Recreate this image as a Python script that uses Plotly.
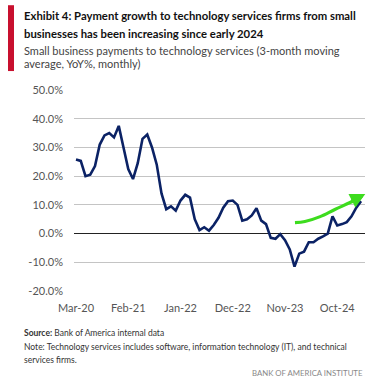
import plotly.graph_objects as go
import pandas as pd

# ---- data ----
months = pd.date_range("2020-03-01", periods=61, freq="MS").strftime("%b-%y").tolist()
values = [25.8, 25.3, 20.0, 20.5, 23.5, 31.0, 34.2, 35.0, 33.5, 37.5,
          30.0, 22.5, 19.0, 24.5, 33.0, 34.5, 30.0, 24.0, 14.0, 8.5,
          9.5, 8.0, 11.5, 13.5, 12.5, 5.0, 1.2, 2.2, 1.0, 3.0,
          5.5, 9.0, 11.3, 11.5, 10.0, 4.5, 5.0, 6.3, 8.8, 4.5,
          3.3, -1.5, -1.8, -0.2, -2.3, -5.5, -11.5, -7.0, -6.3, -3.0,
          -3.0, -1.8, -1.0, 0.0, 6.0, 2.8, 3.3, 4.0, 6.0, 9.0, 11.3]
tick_idx = [0, 11, 22, 33, 44, 55]
tick_labels = [months[i] for i in tick_idx]
y_ticks = [-20, -10, 0, 10, 20, 30, 40, 50]
y_labels = [f"{v:.1f}%" for v in y_ticks]
# hand-drawn green trend arrow (in data coords)
arrow_x = [46.1, 48.2, 51.4, 54.5, 57.7, 60.2]
arrow_y = [3.8, 4.2, 5.9, 8.4, 10.8, 13.0]

W, H = 389, 386
L, R, T, B = 74, 365, 90, 291.5

def px(x):
    return (x - L) / (R - L)

def py(y):
    return (B - y) / (B - T)

NAVY = "#0b2265"
FONT = "Lato"

fig = go.Figure()
fig.add_trace(go.Scatter(x=list(range(len(values))), y=values, mode="lines",
                         line=dict(color=NAVY, width=2.6), hoverinfo="skip"))
fig.add_trace(go.Scatter(x=arrow_x, y=arrow_y, mode="lines",
                         line=dict(color="#3ddc1e", width=3.2, shape="spline"), hoverinfo="skip"))

fig.add_annotation(x=60.9, y=13.8, ax=arrow_x[-2], ay=arrow_y[-2] + 0.3,
                   xref="x", yref="y", axref="x", ayref="y", text="",
                   showarrow=True, arrowhead=2, arrowsize=1.0, arrowwidth=3,
                   arrowcolor="#3ddc1e")

fig.update_layout(
    width=W, height=H,
    margin=dict(l=L, r=W - R, t=T, b=H - B, pad=0),
    paper_bgcolor="white", plot_bgcolor="white",
    showlegend=False,
    font=dict(family=FONT, color="#555555", size=11),
    xaxis=dict(range=[-0.42, 60.84], tickvals=tick_idx, ticktext=tick_labels,
               showgrid=False, zeroline=False, showline=False, ticks="",
               tickfont=dict(size=11, color="#555555", family=FONT), ticklabelstandoff=9),
    yaxis=dict(range=[-20, 50], tickvals=y_ticks, ticktext=y_labels,
               showgrid=True, gridcolor="#c4c4c4", gridwidth=1.3,
               zeroline=True, zerolinecolor="#222222", zerolinewidth=1.3,
               showline=False, ticks="",
               tickfont=dict(size=11, color="#555555", family=FONT), ticklabelstandoff=10),
)

# red bar
fig.add_shape(type="rect", xref="paper", yref="paper",
              x0=px(8), x1=px(14), y0=py(71), y1=py(5),
              fillcolor="#c8102e", line=dict(width=0))

def txt(x, y, s, size, color, bold=False, anchor="left"):
    fig.add_annotation(xref="paper", yref="paper", x=px(x), y=py(y), text=s,
                       showarrow=False, xanchor=anchor, yanchor="middle",
                       font=dict(family=FONT, size=size, color=color,
                                 weight="bold" if bold else "normal"))

txt(22, 15.5, "Exhibit 4: Payment growth to technology services firms from small", 11.3, "#111111", True)
txt(22, 33.5, "businesses has been increasing since early 2024", 11.3, "#111111", True)
txt(22, 50, "Small business payments to technology services (3-month moving", 11, "#444444")
txt(22, 63.5, "average, YoY%, monthly)", 11, "#444444")
txt(22, 333.5, "<b>Source:</b> Bank of America internal data", 8.5, "#333333")
txt(22, 348, "Note: Technology services includes software, information technology (IT), and technical", 8.5, "#333333")
txt(22, 360.5, "services firms.", 8.5, "#333333")
txt(365, 373.5, "BANK OF AMERICA INSTITUTE", 7.8, "#888888", anchor="right")

fig.write_html("out.html", config={"displayModeBar": False},
               post_script="document.body.style.margin='0';")
